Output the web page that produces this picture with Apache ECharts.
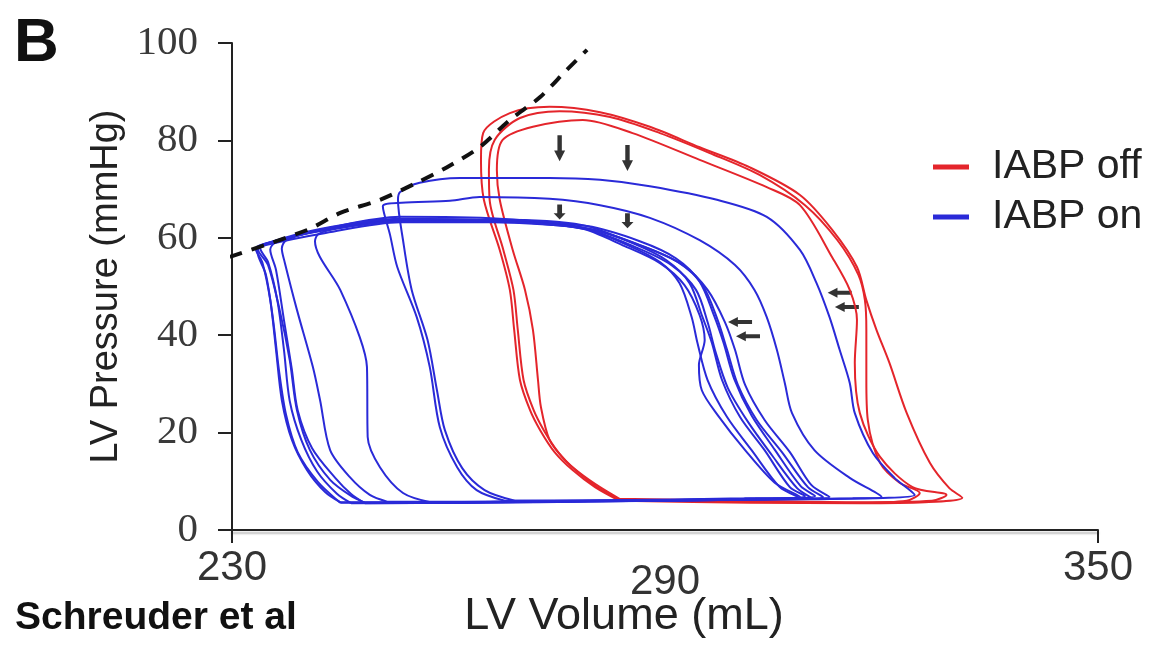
<!DOCTYPE html>
<html>
<head>
<meta charset="utf-8">
<title>LV pressure-volume loops</title>
<script src="https://cdn.jsdelivr.net/npm/echarts@6.0.0/dist/echarts.min.js"></script>
<style>
  html, body { margin: 0; padding: 0; background: #fff; }
  #chart { width: 1165px; height: 650px; }
</style>
</head>
<body>
<div id="chart"></div>
<script>
// tick values
var xTicks = [230, 290, 350];
var yTicks = [0, 20, 40, 60, 80, 100];

// [LV volume (mL), LV pressure (mmHg)] read off the loops
// IABP off (red)
var offLoop1 = [[283.7,6.0],[301.7,5.6],[317.0,5.5],[326.0,5.7],[331.2,6.6],[329.4,8.6],[326.7,13.8],[323.5,24.0],[321.1,34.3],[319.3,41.1],[317.9,47.2],[316.6,54.0],[313.2,61.6],[308.7,68.8],[301.7,74.5],[294.8,78.6],[287.9,82.8],[281.0,85.8],[274.0,86.9],[268.5,85.6],[264.8,81.5],[264.5,76.0],[264.9,67.8],[267.1,57.5],[268.5,49.3],[269.1,41.1],[269.9,30.8],[271.3,24.6],[272.7,20.5],[274.7,16.0],[277.2,12.3],[280.3,8.8],[283.7,6.0]];
var offLoop2 = [[283.7,6.2],[301.7,5.8],[317.0,5.6],[323.5,6.0],[325.3,7.6],[322.5,9.7],[319.8,13.8],[318.1,22.6],[317.9,30.8],[317.9,41.1],[317.7,47.2],[316.8,52.4],[313.9,59.5],[309.4,66.7],[303.1,72.9],[296.2,77.4],[289.3,81.5],[282.4,84.8],[275.4,86.0],[269.9,84.6],[266.4,80.1],[265.6,74.0],[265.7,67.8],[267.6,57.5],[269.0,49.3],[269.6,41.1],[270.4,30.8],[271.8,24.6],[273.2,20.5],[275.2,16.0],[277.6,12.3],[280.6,8.8],[283.7,6.2]];
var offLoop3 = [[283.7,6.4],[301.7,6.0],[317.0,5.7],[327.0,6.0],[329.0,7.2],[324.3,8.8],[319.8,15.0],[317.0,24.0],[316.3,34.3],[316.6,43.1],[315.6,49.3],[313.2,55.9],[308.7,66.7],[304.1,70.4],[294.8,76.0],[285.5,81.5],[278.6,84.2],[271.7,82.8],[267.5,80.1],[266.7,73.9],[267.1,67.8],[268.9,57.5],[270.6,49.3],[271.7,41.1],[272.4,30.8],[272.8,25.3],[274.0,18.5],[276.1,14.4],[278.2,11.7],[281.0,8.8],[283.7,6.4]];

// IABP on (blue)
var onLoop1 = [[245.0,5.7],[260.2,5.7],[281.0,6.0],[301.7,6.4],[309.4,7.0],[307.3,8.8],[303.8,16.4],[300.4,23.2],[297.9,30.8],[296.5,38.4],[295.2,43.7],[293.4,50.7],[290.2,55.4],[285.5,58.9],[278.6,62.6],[267.1,63.7],[253.3,63.7],[242.2,61.4],[234.3,58.7],[233.3,57.7],[234.2,55.0],[235.3,47.2],[236.1,37.0],[236.9,26.7],[238.3,18.5],[240.4,12.3],[242.9,7.8],[245.0,5.7]];
var onLoop2 = [[246.5,5.5],[262.0,5.6],[282.0,6.0],[302.5,6.4],[310.8,7.0],[308.8,9.0],[305.2,16.5],[302.0,23.5],[299.6,31.0],[298.1,38.5],[296.8,44.0],[294.8,51.0],[291.5,55.8],[286.5,59.3],[279.2,62.4],[268.0,63.4],[254.0,63.5],[242.8,61.6],[234.8,58.9],[233.9,57.9],[235.0,55.0],[236.3,47.0],[237.2,37.0],[238.0,26.5],[239.6,18.5],[241.8,12.0],[244.5,7.5],[246.5,5.5]];
var onLoop3 = [[251.5,5.8],[262.0,5.8],[282.0,6.1],[301.0,6.5],[308.4,6.8],[305.9,8.8],[302.0,16.4],[298.6,23.2],[295.9,30.8],[294.5,38.4],[293.7,43.7],[292.0,50.7],[289.3,55.0],[284.8,58.5],[278.2,62.2],[267.1,63.9],[253.3,64.3],[244.0,62.2],[237.6,59.6],[236.9,57.8],[237.3,55.0],[239.0,45.2],[241.2,33.5],[242.2,26.7],[243.6,16.4],[246.3,10.9],[249.1,7.2],[251.5,5.8]];
var onLoop4 = [[248.5,5.6],[262.0,5.6],[283.0,5.9],[303.0,6.3],[311.9,6.8],[309.8,8.8],[306.2,16.0],[302.7,22.6],[300.1,29.8],[298.6,37.0],[297.3,43.1],[295.2,50.3],[291.8,55.0],[286.5,58.5],[278.9,62.0],[267.1,63.2],[253.3,63.2],[243.0,61.0],[235.0,58.6],[233.6,57.6],[235.0,54.4],[236.6,45.2],[238.0,34.9],[239.0,24.6],[240.8,16.4],[243.6,10.3],[246.5,7.0],[248.5,5.6]];
var onLoop5 = [[257.5,5.7],[270.0,5.8],[290.0,6.0],[305.0,6.4],[312.8,6.8],[310.3,9.2],[307.3,16.0],[303.8,22.6],[301.1,29.8],[299.7,37.0],[298.3,42.7],[295.9,49.3],[292.5,54.4],[287.2,58.1],[279.6,61.8],[267.1,63.2],[253.3,63.4],[245.0,62.0],[242.0,60.8],[241.5,59.3],[245.0,49.3],[247.7,39.6],[248.7,33.5],[248.8,19.1],[250.5,12.9],[253.7,7.6],[257.5,5.7]];
var onLoop6 = [[248.4,5.5],[262.0,5.6],[282.0,5.9],[301.0,6.3],[308.7,6.8],[305.2,9.7],[301.1,16.4],[297.3,23.6],[295.1,28.7],[294.7,33.9],[295.5,39.0],[294.8,44.1],[292.7,50.3],[289.3,54.8],[284.4,58.3],[278.2,62.0],[267.1,63.5],[253.3,63.8],[243.0,61.8],[236.0,59.0],[235.3,57.6],[236.1,53.4],[237.2,43.1],[238.3,32.9],[239.1,24.6],[241.1,16.8],[244.3,10.7],[246.5,7.4],[248.4,5.5]];
var onLoop7 = [[245.0,5.6],[262.0,5.7],[283.0,6.0],[303.0,6.4],[310.3,6.6],[308.3,8.6],[304.8,15.4],[301.5,22.2],[298.7,29.2],[297.0,36.6],[295.9,42.7],[294.3,49.3],[290.9,54.4],[285.9,58.1],[278.9,61.8],[267.1,63.4],[253.3,63.9],[242.2,61.8],[234.2,58.5],[233.5,57.3],[234.7,52.4],[235.7,43.1],[236.5,32.9],[237.5,23.6],[239.1,16.0],[241.9,9.9],[245.0,5.6]];
var onLoop8 = [[267.8,6.0],[285.0,6.0],[305.0,6.3],[316.0,6.5],[320.0,6.8],[319.3,7.6],[315.6,10.7],[310.7,16.4],[307.6,24.0],[306.6,30.2],[305.5,37.0],[304.1,43.7],[302.4,49.3],[299.7,54.4],[294.8,59.5],[287.9,64.1],[281.0,66.7],[274.0,68.0],[264.3,68.4],[260.2,67.6],[253.5,67.2],[250.9,66.5],[251.9,60.6],[252.9,54.0],[255.6,43.7],[257.4,33.5],[258.8,21.1],[261.2,12.9],[263.9,8.2],[267.8,6.0]];
var onLoop9 = [[269.2,6.0],[290.0,6.1],[310.0,6.3],[321.0,6.6],[324.6,7.2],[323.9,8.2],[321.8,10.7],[318.8,15.8],[316.3,24.0],[315.6,30.2],[314.2,37.0],[312.8,43.7],[311.0,50.7],[308.7,57.5],[304.1,64.3],[297.2,67.8],[287.9,70.6],[281.0,71.9],[274.0,72.3],[261.6,72.3],[256.0,71.3],[253.3,69.4],[253.0,67.8],[253.7,59.5],[254.9,49.3],[257.1,39.0],[258.4,28.7],[259.5,20.5],[261.9,12.7],[265.0,8.2],[269.2,6.0]];

// end-systolic pressure-volume relation (dashed)
var espvrLine = [[229.7,56.1],[240.4,61.6],[245.0,65.1],[250.5,67.8],[255.6,71.3],[259.8,74.5],[264.3,78.6],[268.5,84.2],[272.7,88.9],[276.4,94.5],[279.2,98.6]];

// arrow markers
var downArrowsLong = [[275.4,78.4],[284.8,76.4]];
var downArrowsShort = [[275.4,65.3],[284.8,63.5]];
var leftArrows = [[300.4,42.7],[301.5,39.8],[314.2,48.7],[315.2,45.8]];

var offLoops = [offLoop1, offLoop2, offLoop3];
var onLoops = [onLoop1, onLoop2, onLoop3, onLoop4, onLoop5, onLoop6, onLoop7, onLoop8, onLoop9];

var RED = '#e4252b';
var BLUE = '#2a2ad8';
var arrowPath = 'path://M3,0 L7,0 L7,13 L10,13 L5,22 L0,13 L3,13 Z';

var chartDom = document.getElementById('chart');
var myChart = echarts.init(chartDom);

function loopSeries(name, color, d) {
    return {
        name: name,
        type: 'line',
        data: d,
        showSymbol: false,
        smooth: 0.3,
        lineStyle: { color: color, width: 2 },
        itemStyle: { color: color },
        emphasis: { disabled: true }
    };
}

var series = [];
offLoops.forEach(function (d) { series.push(loopSeries('IABP off', RED, d)); });
onLoops.forEach(function (d) { series.push(loopSeries('IABP on', BLUE, d)); });

series.push({
    type: 'line',
    data: espvrLine,
    showSymbol: false,
    smooth: 0.3,
    lineStyle: { color: '#111', width: 4, type: [13, 10] },
    emphasis: { disabled: true }
});
series.push({
    type: 'scatter',
    data: downArrowsLong,
    symbol: arrowPath,
    symbolSize: [11, 26],
    itemStyle: { color: '#000' }
});
series.push({
    type: 'scatter',
    data: downArrowsShort,
    symbol: arrowPath,
    symbolSize: [12, 15],
    itemStyle: { color: '#000' }
});
series.push({
    type: 'scatter',
    data: leftArrows,
    symbol: arrowPath,
    symbolSize: [10, 24],
    symbolRotate: -90,
    itemStyle: { color: '#000' }
});

var option = {
    animation: false,
    backgroundColor: '#fff',
    grid: { left: 232, right: 67, top: 43, bottom: 120 },
    legend: {
        data: ['IABP off', 'IABP on'],
        orient: 'vertical',
        left: 928,
        top: 141,
        icon: 'rect',
        itemWidth: 36,
        itemHeight: 5,
        itemGap: 8,
        textStyle: {
            fontFamily: 'Liberation Sans',
            fontSize: 41,
            lineHeight: 42,
            color: '#222',
            padding: [0, 0, 0, 18]
        }
    },
    xAxis: {
        type: 'value',
        min: 230,
        max: 350,
        interval: 60,
        splitLine: { show: false },
        axisLine: {
            lineStyle: { color: '#222', width: 2, shadowColor: 'rgba(0,0,0,0.25)', shadowOffsetY: 3, shadowBlur: 2 }
        },
        axisTick: { length: 13, customValues: [230, 350], lineStyle: { color: '#222', width: 2 } },
        axisLabel: {
            customValues: xTicks,
            margin: 17,
            color: '#333',
            formatter: function (v) {
                return v === 290 ? '{low|' + v + '}' : '{n|' + v + '}';
            },
            rich: {
                n: { fontFamily: 'Liberation Sans', fontSize: 42, color: '#333' },
                low: { fontFamily: 'Liberation Sans', fontSize: 42, color: '#333', padding: [14, 0, 0, 0] }
            }
        }
    },
    yAxis: {
        type: 'value',
        min: 0,
        max: 100,
        interval: 20,
        name: 'LV Pressure (mmHg)',
        nameLocation: 'middle',
        nameRotate: 90,
        nameGap: 102,
        nameTextStyle: { fontFamily: 'Liberation Sans', fontSize: 38, color: '#222' },
        splitLine: { show: false },
        axisLine: { show: true, lineStyle: { color: '#222', width: 2 } },
        axisTick: { show: true, length: 14, lineStyle: { color: '#222', width: 2 } },
        axisLabel: {
            customValues: yTicks,
            margin: 34,
            color: '#3a3a3a',
            fontFamily: 'Liberation Serif',
            fontSize: 41
        }
    },
    graphic: {
        elements: [
            {
                type: 'text', x: 14, y: 44,
                style: { text: 'B', font: 'bold 62px "Liberation Sans"', fill: '#111', verticalAlign: 'middle' }
            },
            {
                type: 'text', x: 15, y: 618,
                style: { text: 'Schreuder et al', font: 'bold 39px "Liberation Sans"', fill: '#111', verticalAlign: 'middle' }
            },
            {
                type: 'text', x: 624, y: 617,
                style: { text: 'LV Volume (mL)', font: '45px "Liberation Sans"', fill: '#222', align: 'center', verticalAlign: 'middle' }
            }
        ]
    },
    series: series
};

myChart.setOption(option);
</script>
</body>
</html>
